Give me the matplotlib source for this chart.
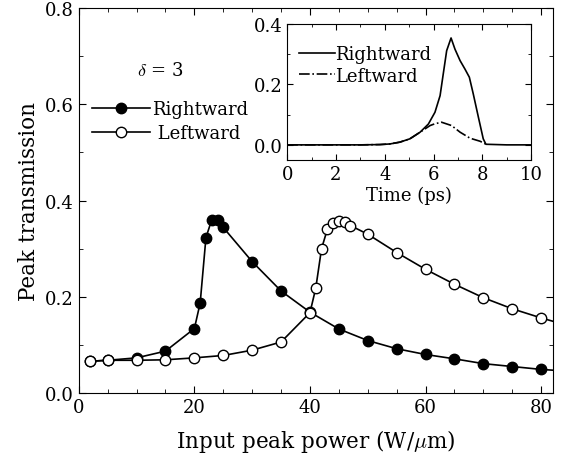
import matplotlib
matplotlib.use('Agg')
import matplotlib.pyplot as plt
from matplotlib.lines import Line2D

plt.rcParams['font.family'] = 'DejaVu Serif'
plt.rcParams['mathtext.fontset'] = 'cm'
plt.rcParams['font.size'] = 13

# main panel data
right_x = [2, 5, 10, 15, 20, 21, 22, 23, 24, 25, 30, 35, 40, 45, 50, 55, 60, 65, 70, 75, 80, 85]
right_y = [0.066, 0.068, 0.073, 0.087, 0.134, 0.187, 0.323, 0.360, 0.359, 0.344, 0.273, 0.212,
           0.168, 0.133, 0.109, 0.092, 0.080, 0.071, 0.061, 0.055, 0.049, 0.045]
left_x = [2, 5, 10, 15, 20, 25, 30, 35, 40, 41, 42, 43, 44, 45, 46, 47, 50, 55, 60, 65, 70, 75, 80, 85]
left_y = [0.066, 0.068, 0.068, 0.069, 0.073, 0.078, 0.089, 0.106, 0.167, 0.218, 0.300, 0.340,
          0.353, 0.357, 0.355, 0.348, 0.330, 0.292, 0.257, 0.226, 0.198, 0.175, 0.156, 0.139]

# inset data (time profiles)
t_r = [0, 1, 2, 3, 3.8, 4.21, 4.62, 5.03, 5.45, 5.79, 6.06, 6.27, 6.40, 6.54, 6.72, 6.88,
       7.09, 7.29, 7.47, 7.63, 7.84, 8.04, 8.15, 9, 10]
p_r = [0, 0, 0, 0, 0.001, 0.003, 0.009, 0.020, 0.042, 0.069, 0.108, 0.163, 0.235, 0.312, 0.354,
       0.317, 0.279, 0.251, 0.224, 0.169, 0.092, 0.020, 0.002, 0, 0]
t_l = [0, 1, 2, 3, 3.8, 4.21, 4.62, 5.03, 5.45, 5.86, 6.06, 6.33, 6.74, 7.09, 7.50, 7.91, 8.13]
p_l = [0, 0, 0, 0, 0.001, 0.003, 0.009, 0.020, 0.042, 0.064, 0.070, 0.075, 0.064, 0.042,
       0.022, 0.012, 0.003]

fig = plt.figure(figsize=(5.71, 4.56), dpi=100)
ax = fig.add_axes([0.138, 0.136, 0.830, 0.844])

ax.plot(right_x, right_y, '-', color='black', lw=1.2, marker='o', ms=7.5,
        mfc='black', mec='black')
ax.plot(left_x, left_y, '-', color='black', lw=1.2, marker='o', ms=7.5,
        mfc='white', mec='black')

ax.set_xlim(0, 82)
ax.set_ylim(0, 0.8)
ax.set_xticks([0, 20, 40, 60, 80])
ax.set_xticks(range(0, 82, 5), minor=True)
ax.set_yticks([0.0, 0.2, 0.4, 0.6, 0.8])
ax.set_yticklabels(['0.0', '0.2', '0.4', '0.6', '0.8'])
ax.set_yticks([0.1, 0.3, 0.5, 0.7], minor=True)
ax.tick_params(which='both', direction='in', top=True, right=True)
ax.tick_params(which='major', length=5)
ax.tick_params(which='minor', length=3)
ax.set_xlabel(r'Input peak power (W/$\mu$m)', fontsize=15.5, labelpad=8)
ax.set_ylabel('Peak transmission', fontsize=15.5, labelpad=4)

handles = [Line2D([], [], color='black', lw=1.2, marker='o', ms=7.5, mfc='black', mec='black'),
           Line2D([], [], color='black', lw=1.2, marker='o', ms=7.5, mfc='white', mec='black')]
ax.legend(handles, ['Rightward', ' Leftward'], loc='upper left', bbox_to_anchor=(0.013, 0.78),
          frameon=False, handlelength=3.2, handletextpad=0.1, labelspacing=0.35, borderaxespad=0)
ax.text(0.122, 0.84, r'$\delta$ = 3', transform=ax.transAxes, ha='left', va='center')

ins = fig.add_axes([0.503, 0.647, 0.427, 0.298])
ins.plot(t_r, p_r, '-', color='black', lw=1.2, label='Rightward')
ins.plot(t_l, p_l, '-.', color='black', lw=1.2, label='Leftward')
ins.set_xlim(0, 10)
ins.set_ylim(-0.05, 0.4)
ins.set_xticks([0, 2, 4, 6, 8, 10])
ins.set_xticks(range(0, 11), minor=True)
ins.set_yticks([0.0, 0.2, 0.4])
ins.set_yticklabels(['0.0', '0.2', '0.4'])
ins.set_yticks([0.1, 0.3], minor=True)
ins.tick_params(which='both', direction='in', top=True, right=True)
ins.tick_params(which='major', length=4)
ins.tick_params(which='minor', length=2.5)
ins.set_xlabel('Time (ps)', labelpad=2)
ins.legend(loc='upper left', bbox_to_anchor=(0.02, 0.9), frameon=False, handlelength=2.0,
           handletextpad=0.0, labelspacing=0.2, borderaxespad=0)

fig.savefig('out.png', dpi=100)
